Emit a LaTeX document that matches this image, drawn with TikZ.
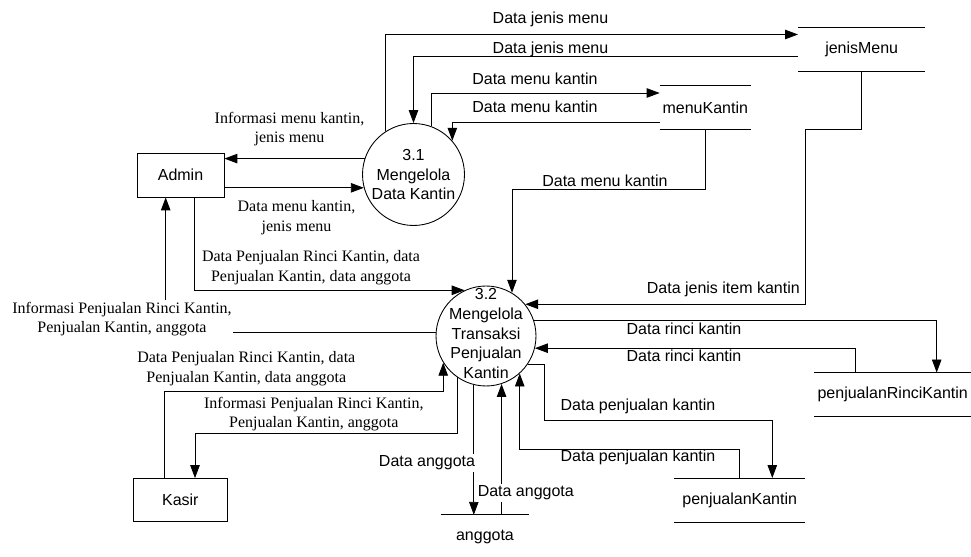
\documentclass[tikz,border=0pt]{standalone}
\usepackage{fontspec}
\setmainfont{Liberation Serif}
\setsansfont{Liberation Sans}
\usetikzlibrary{arrows.meta,calc}

\begin{document}
\begin{tikzpicture}[x=0.02cm,y=-0.02cm,line width=0.5pt,
  font=\sffamily\fontsize{9.1pt}{11.2pt}\selectfont,
  >={Triangle[length=0.26cm,width=0.19cm]},
  entity/.style={draw,minimum height=0.88cm,inner sep=0pt},
  proc/.style={draw,circle,inner sep=0pt},
  store/.style={minimum height=0.87cm,inner sep=0pt},
  lbl/.style={inner sep=1pt,align=center},
  lblserif/.style={lbl,font=\rmfamily\fontsize{9.1pt}{11.2pt}\selectfont}]
\useasboundingbox (0,0) rectangle (971,557);
%entities
 \node[entity,minimum width=1.74cm] (admin) at (180.5,175) {Admin};
 \node[entity,minimum width=1.87cm,minimum height=0.85cm] (kasir) at (180.3,499.8) {Kasir};
%processes
 \node[proc,minimum size=2.04cm,label={[align=center]center:3.1\\Mengelola\\Data Kantin}] (p31) at (413.5,174.5) {};
 \node[proc,minimum size=2cm,label={[align=center,yshift=0.05cm]center:3.2\\Mengelola\\Transaksi\\Penjualan\\Kantin}] (p32) at (486,336) {};
%data stores
 \node[store,minimum width=2.53cm] (jmenu) at (861.7,49.2) {jenisMenu};
 \node[store,minimum width=1.81cm] (mkantin) at (705.3,107.5) {menuKantin};
 \node[store,minimum width=2.61cm] (pkantin) at (739.7,500.2) {penjualanKantin};
 \node[store,minimum width=3.13cm] (prkantin) at (892.7,394.7) {penjualanRinciKantin};
 \node[store,minimum width=1.76cm] (angg) at (485,537) {anggota};
 \foreach \s in {jmenu,mkantin,pkantin,prkantin}
  \draw (\s.north west) -- (\s.north east) (\s.south west) -- (\s.south east);
 \draw (angg.north west) -- (angg.north east); %only top line

%flows of 3.1
	\draw[->] (p31.123) |- ($(jmenu.west)+(0,-14.7)$); %to jenisMenu
	\draw[->] ($(jmenu.west)+(0,7.5)$) -| (p31.north); %from jenisMenu
	\draw[->] (p31.70) |- ($(mkantin.west)+(0,-14.5)$); %to menuKantin
	\draw[->] ($(mkantin.west)+(0,14.5)$) -| (p31.41.5); %from menuKantin
	\draw[->] (p31.162.3) -- (p31.162.3 -| admin.east); %to Admin
	\draw[->] (p31.195 -| admin.east) -- (p31.195); %from Admin

%flows of 3.2
	\draw[->] (mkantin.south) -- ++(0,59.7) -| (p32.59); %from menuKantin
	\draw[->] (jmenu.south) |- ++(-56,58.3) |- (p32.39.3); %from jenisMenu
	\draw[->] (p32.18.7) -| ($(prkantin.north)+(44,0)$); %to penjualanRinciKantin
	\draw[->] ($(prkantin.north)+(-37,0)$) |- (p32.346.5); %from penjualanRinciKantin
	\draw[->] (p32.326.7) -- ++(16.6,0) |- ($(pkantin.north)+(32.6,-57.6)$) -- ($(pkantin.north)+(32.6,0)$); %to penjualanKantin
	\draw[->] (pkantin.north) -- ++(0,-28.3) -| (p32.312.8); %from penjualanKantin
	\draw[->] ($(admin.south)+(14.2,0)$) |- (p32.115); %from Admin
	\draw[->] (p32.176) -| ($(admin.south)+(-14.8,0)$); %to Admin
	\draw[->] ($(kasir.north)+(-16,0)$) -- ++(0,-87) -| (p32.212.2); %from Kasir
	\draw[->] (p32.235.5) -- ++(0,56.1) -| ($(kasir.north)+(14.7,0)$); %to Kasir
	\draw[->] (p32.256.5) -- (p32.256.5 |- angg.north); %to anggota
	\draw[->] (p32.288.7 |- angg.north) -- (p32.288.7); %from anggota

%labels
	\node[lbl] (ljm1) at (550.5,19) {Data jenis menu};
	\node[lbl] (ljm2) at (550.5,49.3) {Data jenis menu};
	\node[lbl] (lmk1) at (535,79) {Data menu kantin};
	\node[lbl] (lmk2) at (535,106.7) {Data menu kantin};
	\node[lbl] (lmk3) at (605,180.3) {Data menu kantin};
	\node[lblserif] (linfo1) at (289.5,129) {Informasi menu kantin,\\jenis menu};
	\node[lblserif] (ldata1) at (296.5,217.5) {Data menu kantin,\\jenis menu};
	\node[lblserif] (ladm2) at (311,268) {Data Penjualan Rinci Kantin, data\\Penjualan Kantin, data anggota};
	\node[lblserif,fill=white] (linfo2) at (122,319) {Informasi Penjualan Rinci Kantin,\\Penjualan Kantin, anggota};
	\node[lblserif] (lkas1) at (246.3,369) {Data Penjualan Rinci Kantin, data\\Penjualan Kantin, data anggota};
	\node[lblserif] (lkas2) at (313.8,414) {Informasi Penjualan Rinci Kantin,\\Penjualan Kantin, anggota};
	\node[lbl,fill=white] (lang1) at (427,462.7) {Data anggota};
	\node[lbl,fill=white] (lang2) at (525.8,492.7) {Data anggota};
	\node[lbl] (ljit) at (723.3,289) {Data jenis item kantin};
	\node[lbl] (lrk1) at (684,328.7) {Data rinci kantin};
	\node[lbl] (lrk2) at (684,356) {Data rinci kantin};
	\node[lbl] (lpk1) at (638,406.7) {Data penjualan kantin};
	\node[lbl] (lpk2) at (638,457.7) {Data penjualan kantin};
\end{tikzpicture}
\end{document}
